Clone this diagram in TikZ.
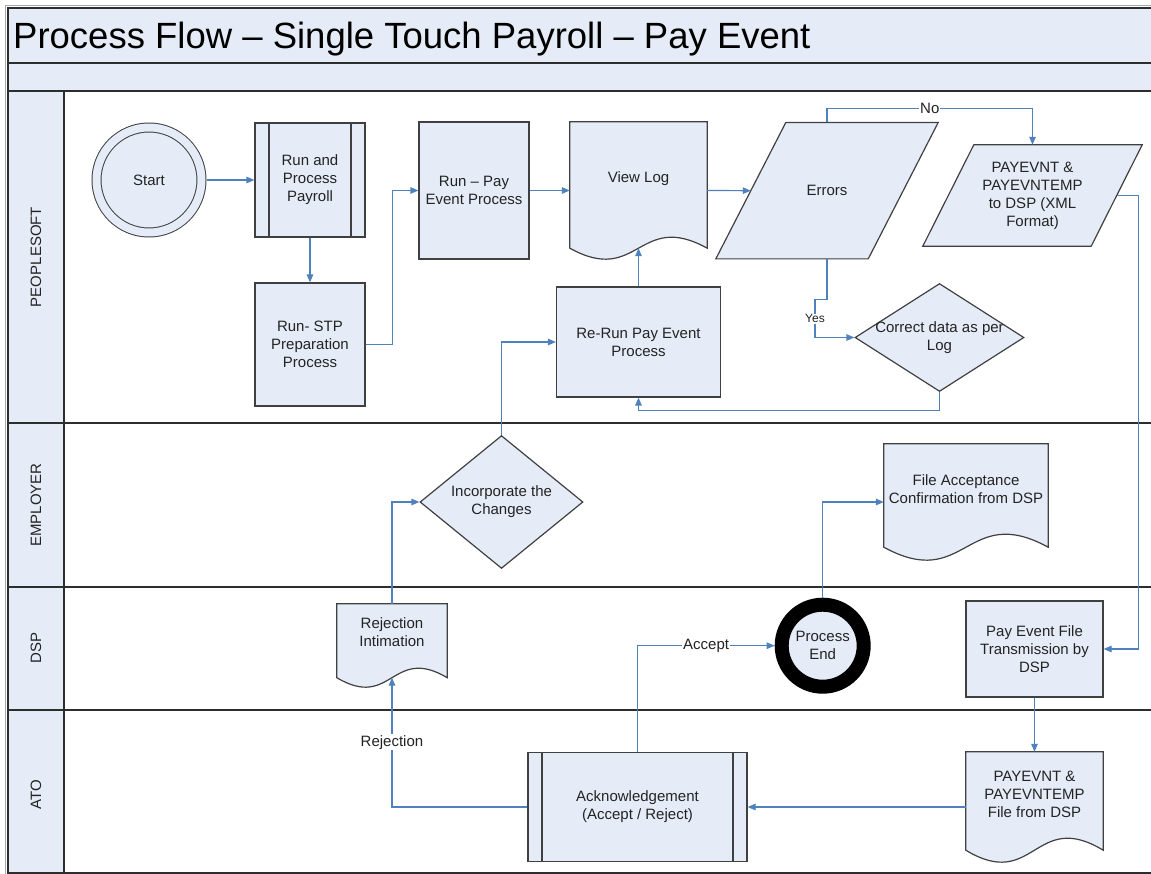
\documentclass[tikz,border=0pt]{standalone}
\usepackage{fontspec}
\setmainfont{Liberation Sans}
\usetikzlibrary{shapes.geometric, arrows.meta, backgrounds}

\definecolor{boxfill}{RGB}{230,236,247}
\definecolor{flowblue}{RGB}{79,129,189}
\definecolor{edgegray}{RGB}{64,64,64}
\definecolor{lanegray}{RGB}{45,45,45}
\definecolor{textgray}{RGB}{35,35,35}

% outline of a document shape: node name, depth of the wave
\newcommand{\docoutline}[2]{%
	\draw[doc line] (#1.north west) -- (#1.north east) -- ([yshift=#2]#1.south east)
		.. controls ([yshift=4.46*#2]#1.south) and ([yshift=-2.46*#2]#1.south) .. ([yshift=#2]#1.south west) -- cycle;}
% outline of a data (slanted) shape: node name, slant
\newcommand{\iooutline}[2]{%
	\draw[doc line] ([xshift=#2]#1.north west) -- (#1.north east) -- ([xshift=-#2]#1.south east) -- (#1.south west) -- cycle;}

\begin{document}
\begin{tikzpicture}[x=1pt, y=-1pt, font=\fontsize{15}{18}\selectfont, text=textgray]
		\tikzset{box/.style={draw=edgegray, line width=1.2pt, fill=boxfill, align=center, inner sep=2pt},
			predefined/.style={box, path picture={\draw[edgegray, line width=1.2pt]
				([xshift=14pt]path picture bounding box.north west) -- ([xshift=14pt]path picture bounding box.south west)
				([xshift=-14pt]path picture bounding box.north east) -- ([xshift=-14pt]path picture bounding box.south east);}},
			io box/.style={rectangle, align=center},
			decision/.style={box, diamond, inner sep=0pt},
			doc/.style={rectangle, align=center, text depth=26pt},
			doc line/.style={draw=edgegray, line width=1.2pt, fill=boxfill},
			flow/.style={draw=flowblue, line width=1.2pt, -{Triangle[length=8pt, width=6.5pt]}},
			flow label/.style={fill=white, inner sep=1pt},
			lane/.style={draw=lanegray, line width=1.5pt}}
		
		\useasboundingbox (0,0) rectangle (1151,874);
		
		% frame, title and lanes
		\draw[gray!70, line width=0.8pt] (5,874) -- (5,5) -- (1160,5);
		\draw[lane, fill=boxfill] (8,8) rectangle (1160,63);
		\draw[lane, fill=boxfill] (8,63) rectangle (1160,91);
		\node[anchor=base west, inner sep=0pt, text=black, font=\fontsize{36.5}{40}\selectfont] (title) at (13,49) {Process Flow – Single Touch Payroll – Pay Event};
		\draw[lane] (8,91) rectangle (1160,423);
		\draw[lane] (8,423) rectangle (1160,587);
		\draw[lane] (8,587) rectangle (1160,710);
		\draw[lane] (8,710) rectangle (1160,873);
		\draw[lane, fill=boxfill] (8,91) rectangle (64,873);
		\draw[lane] (8,423) -- (64,423) (8,587) -- (64,587) (8,710) -- (64,710);
		\node[rotate=90] (peoplesoft) at (36,257) {PEOPLESOFT};
		\node[rotate=90] (employer) at (36,505) {EMPLOYER};
		\node[rotate=90] (dsp) at (36,648) {DSP};
		\node[rotate=90] (ato) at (36,795) {ATO};
		
		% PEOPLESOFT
		\node[box, circle, line width=1pt, double=boxfill, double distance=8pt, minimum size=105pt, outer sep=5pt] (start) at (149,180) {Start};
		\node[predefined, minimum width=110pt, minimum height=114pt] (payroll) at (310,180) {Run and\\Process\\Payroll};
		\node[box, minimum width=110pt, minimum height=123pt] (stpprep) at (310,344.5) {Run- STP\\Preparation\\Process};
		\node[box, minimum width=110pt, minimum height=137pt] (payevent) at (474,190.5) {Run – Pay\\Event Process};
		\node[doc, minimum width=137pt, minimum height=137pt] (viewlog) at (638.5,190.5) {View Log};
		\node[io box, minimum width=222pt, minimum height=136pt] (errors) at (827,190.7) {Errors};
		\node[io box, minimum width=219pt, minimum height=101pt] (xmlout) at (1032.5,195.5) {PAYEVNT \&\\PAYEVNTEMP\\to DSP (XML\\Format)};
		\node[decision, minimum width=169pt, minimum height=108pt, label={[name=fixtext, align=center]center:Correct data as per\\Log}] (fix) at (939.5,337.5) {};
		\node[box, minimum width=164pt, minimum height=110pt] (rerun) at (638.5,342) {Re-Run Pay Event\\Process};
		
		% EMPLOYER
		\node[decision, minimum width=163pt, minimum height=109pt] (incorp) at (501.5,502) {Incorporate the\\Changes};
		\node[doc, minimum width=164pt, minimum height=116pt] (fileacc) at (966,502) {File Acceptance\\Confirmation from DSP};
		
		% DSP
		\node[doc, minimum width=110pt, minimum height=83pt] (rejection) at (392,645.5) {Rejection\\Intimation};
		\node[circle, draw=black, line width=14pt, fill=boxfill, minimum size=82pt, inner sep=0pt, outer sep=7pt, align=center] (procend) at (822.7,645.7) {Process\\End};
		\node[box, minimum width=137pt, minimum height=96pt] (dsptrans) at (1034.5,649) {Pay Event File\\Transmission by\\DSP};
		
		% ATO
		\node[doc, minimum width=137pt, minimum height=110pt] (payfile) at (1034.5,807) {PAYEVNT \&\\PAYEVNTEMP\\File from DSP};
		\node[predefined, minimum width=219pt, minimum height=109pt] (ack) at (637.5,807) {Acknowledgement\\(Accept / Reject)};
		
		\begin{scope}[on background layer]
			\docoutline{viewlog}{11pt}
			\docoutline{fileacc}{13pt}
			\docoutline{rejection}{9.5pt}
			\docoutline{payfile}{12pt}
			\iooutline{errors}{70pt}
			\iooutline{xmlout}{51pt}
		\end{scope}
		
		% connectors
		\draw[flow] (start) -- (payroll);
		\draw[flow] (payroll) -- (stpprep);
		\draw[flow] (stpprep.east) -- ++(27,0) |- (payevent.west);
		\draw[flow] (payevent) -- (viewlog);
		\draw[flow] (viewlog.east) -- ([xshift=35pt]errors.west);
		\draw[flow] (errors.north) -- ++(0,-14) -| node[pos=0.25, flow label] (nolabel) {No} (xmlout.north);
		\draw[flow] ([xshift=-25.5pt]xmlout.east) -- ++(22,0) |- (dsptrans.east);
		\draw[flow] (errors.south) -- ++(0,41) -- ++(-12,0) |- node[pos=0.25, flow label, font=\fontsize{12}{14}\selectfont] (yeslabel) {Yes} (fix.west);
		\draw[flow] (fix.south) -- ++(0,18) -| (rerun.south);
		\draw[flow] (rerun.north) -- ([yshift=11pt]viewlog.south);
		\draw[flow] (incorp.north) |- (rerun.west);
		\draw[flow] (rejection.north) |- (incorp.west);
		\draw[flow] (ack.west) -| node[pos=0.75, flow label] (rejectlabel) {Rejection} ([yshift=9.5pt]rejection.south);
		\draw[flow] (ack.north) |- node[pos=0.75, flow label] (acceptlabel) {Accept} (procend.west);
		\draw[flow] (procend.north) |- (fileacc.west);
		\draw[flow] (dsptrans) -- (payfile);
		\draw[flow] (payfile) -- (ack);
\end{tikzpicture}
\end{document}
